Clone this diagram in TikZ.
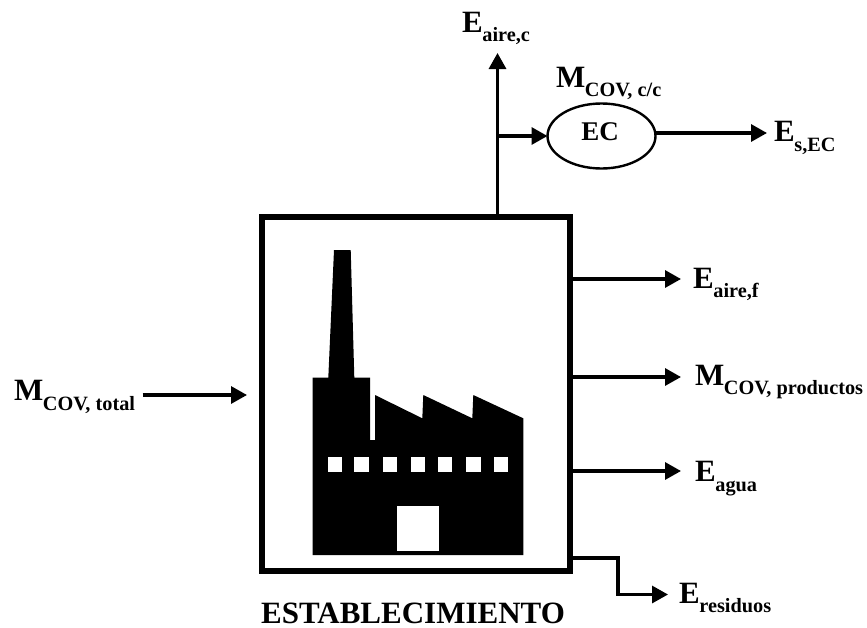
\documentclass[tikz,border=0pt]{standalone}
\usepackage{fontspec}
\setmainfont{Liberation Serif}[BoldFont={Liberation Serif Bold}]
\usetikzlibrary{arrows.meta,shapes.geometric}
\newcommand{\flowlab}[2]{{\fontsize{31}{31}\selectfont #1}\kern-0.5pt\lower 9.5pt\hbox{\fontsize{20.3}{20.3}\selectfont #2}}
\tikzset{
  flow/.style={line width=3.2pt,-{Triangle[length=16pt,width=17pt]}},
  boxnode/.style={draw,line width=6pt,minimum width=308pt,minimum height=354pt,inner sep=0pt,outer sep=0pt,line join=miter},
  ecnode/.style={draw,ellipse,line width=2.4pt,minimum width=108pt,minimum height=65pt,inner sep=0pt,outer sep=0pt},
  lab/.style={anchor=base west,inner sep=0pt,font=\bfseries},
  cen/.style={anchor=base,inner sep=0pt,font=\bfseries}
}
\begin{document}
\begin{tikzpicture}[x=1pt,y=-1pt]
\useasboundingbox (0,0) rectangle (867,627);
% factory
\fill (312.7,555) -- (312.7,377.7) -- (328.3,377.7) -- (334,250) -- (350.7,250) -- (354.3,377.7) -- (370,377.7) -- (370,440) -- (375,440) -- (375,395) -- (422.3,418.3) -- (423.3,395) -- (472.3,418.3) -- (473.3,395) -- (523.3,418.3) -- (523.3,555) -- cycle;
\foreach \wx in {327.7,354.3,382.7,410.7,437.7,466,493.7}
  \fill[white] (\wx,456.7) rectangle ++(14.7,15);
\fill[white] (396.7,506) rectangle (439.3,551);
% nodes
\node[boxnode] (box) at (416,394) {};
\node[ecnode] (ec) at (601.5,136) {};
\node[cen] (eclab) at (600,140) {\fontsize{27}{27}\selectfont EC};
\node[lab] (laire) at (462,32) {\flowlab{E}{aire,c}};
\node[lab] (lcc) at (556,87) {\flowlab{M}{COV, c/c}};
\node[lab] (lsec) at (774,141.7) {\flowlab{E}{s,EC}};
\node[lab] (lfug) at (693,288) {\flowlab{E}{aire,f}};
\node[lab] (lprod) at (695,385) {\flowlab{M}{COV, productos}};
\node[lab] (lagua) at (695,481.7) {\flowlab{E}{agua}};
\node[lab] (lres) at (679,603) {\flowlab{E}{residuos}};
\node[lab] (ltot) at (14,400.7) {\flowlab{M}{COV, total}};
\node[cen] (lest) at (413,623) {\fontsize{31}{31}\selectfont ESTABLECIMIENTO};
% connector ends
\coordinate (stackbase) at (497.5,216);
\coordinate (stacktip) at (497.5,53);
\coordinate (tee) at (497.5,136);
\coordinate (intail) at (142.7,395);
\coordinate (intip) at (247,395);
\coordinate (sectip) at (767,133);
\coordinate (ftip) at (681,279);
\coordinate (ptip) at (681,377);
\coordinate (atip) at (681,471);
\coordinate (rs) at (570.5,558);
\coordinate (rk1) at (618,558);
\coordinate (rk2) at (618,594.5);
\coordinate (rtip) at (668,594.5);
% connectors
\draw[flow] (stackbase) -- (stacktip);
\draw[flow] (tee) -- (ec.west);
\draw[flow] (ec.east |- sectip) -- (sectip);
\draw[flow] (intail) -- (intip);
\draw[flow] (box.east |- ftip) -- (ftip);
\draw[flow] (box.east |- ptip) -- (ptip);
\draw[flow] (box.east |- atip) -- (atip);
\draw[flow] (rs) -- (rk1) -- (rk2) -- (rtip);
\end{tikzpicture}
\end{document}
